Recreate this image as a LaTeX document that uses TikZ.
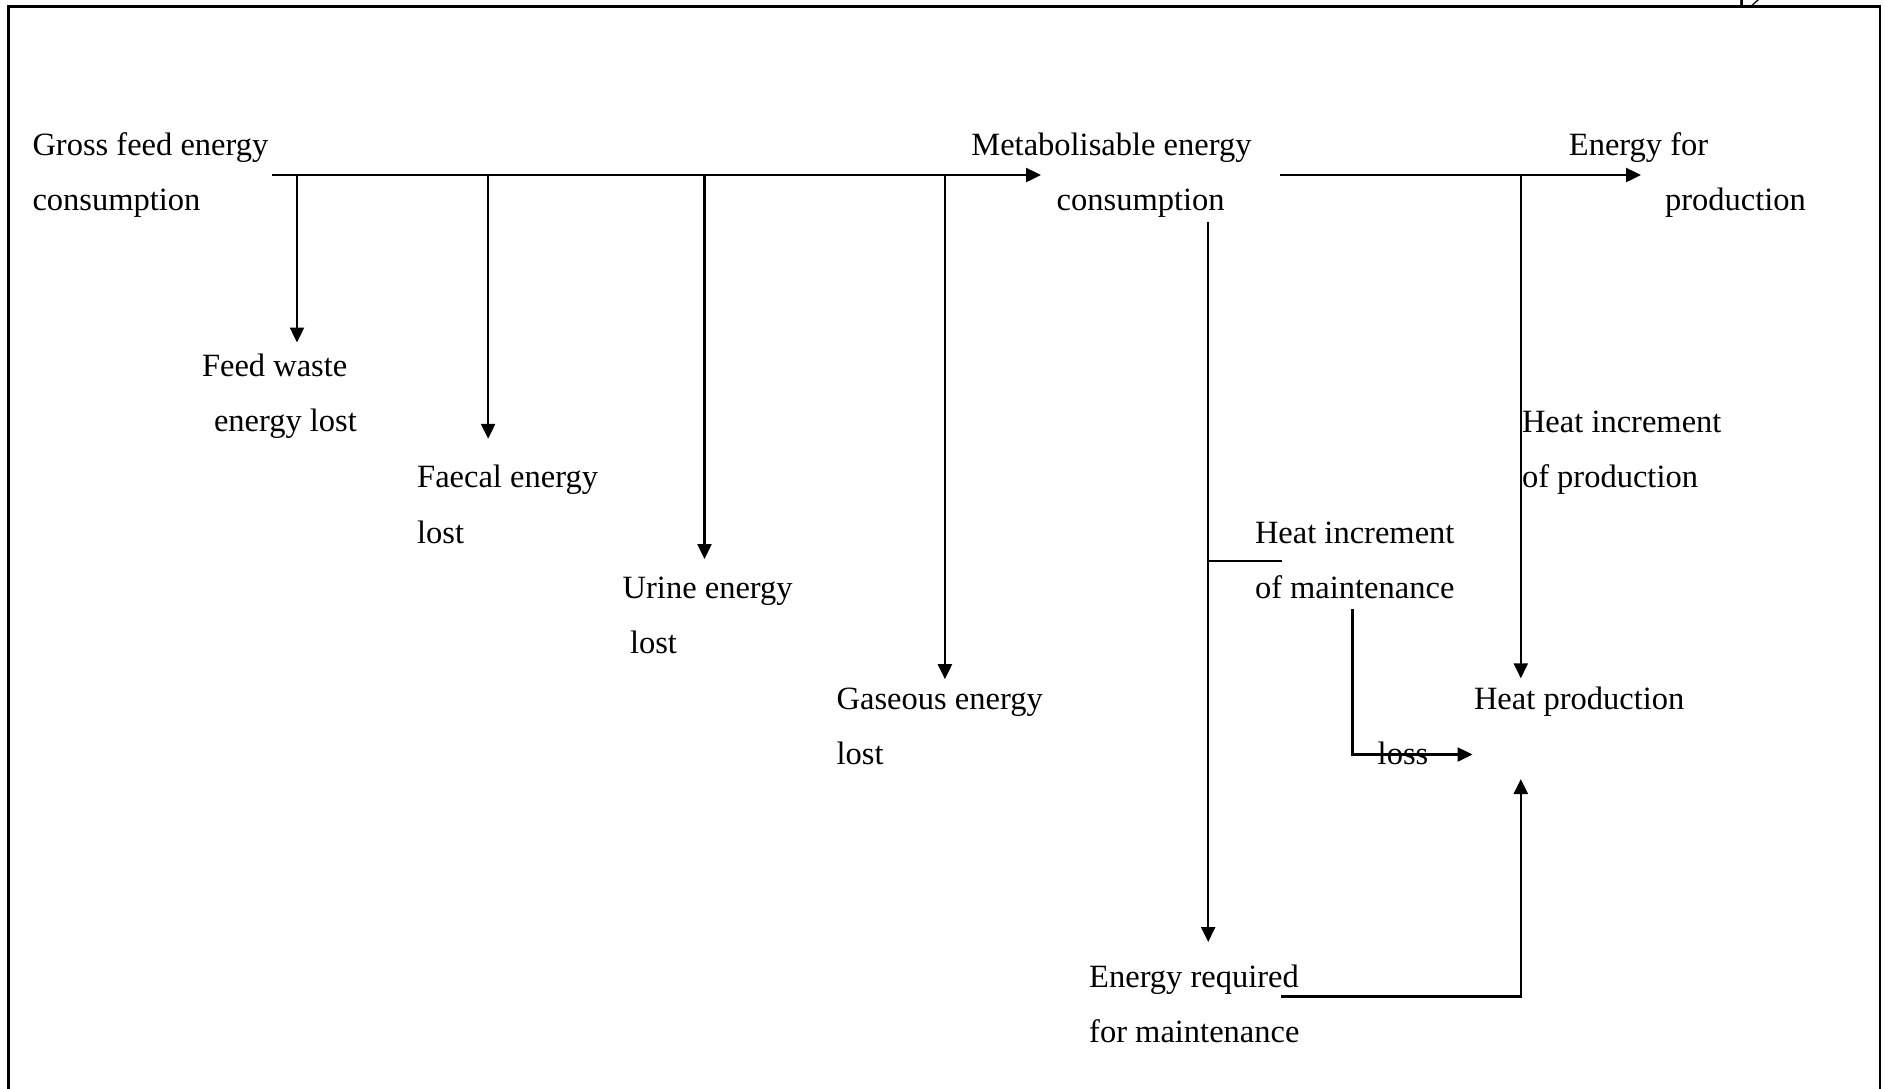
\documentclass[tikz,border=0pt]{standalone}
\usepackage{fontspec}
\setmainfont{Liberation Serif}
\usetikzlibrary{arrows.meta}
\begin{document}
\begin{tikzpicture}[x=1pt,y=-1pt,
  lbl/.style={anchor=base west,inner sep=0pt,outer sep=0pt,font=\fontsize{32.5}{37}\selectfont},
  flow/.style={line width=2.4pt,line cap=butt},
  arr/.style={flow,-{Triangle[length=15pt,width=14pt]}},
  frame/.style={line width=2.6pt}]
\useasboundingbox (0,0) rectangle (1885,1088);
% frame and page number
\draw[frame] (8.5,1100) -- (8.5,6.7) -- (1880,6.7) -- (1880,1100);
\node[lbl] (pg) at (1733,8) {12};
% labels
\node[lbl] (gfe1) at (32.5,155) {Gross feed energy};
\node[lbl] (gfe2) at (32.5,210.3) {consumption};
\node[lbl] (me1) at (971.4,155) {Metabolisable energy};
\node[lbl] (me2) at (1056.7,210.3) {consumption};
\node[lbl] (ep1) at (1568.9,155) {Energy for};
\node[lbl] (ep2) at (1665,210.3) {production};
\node[lbl] (fw1) at (202,376.2) {Feed waste};
\node[lbl] (fw2) at (214,431.5) {energy lost};
\node[lbl] (fa1) at (417.2,487.7) {Faecal energy};
\node[lbl] (fa2) at (417.2,543.3) {lost};
\node[lbl] (ur1) at (622.7,598.6) {Urine energy};
\node[lbl] (ur2) at (630,653.9) {lost};
\node[lbl] (ga1) at (836.7,709.2) {Gaseous energy};
\node[lbl] (ga2) at (836.7,764.5) {lost};
\node[lbl] (hip1) at (1522,432.7) {Heat increment};
\node[lbl] (hip2) at (1522,487.7) {of production};
\node[lbl] (him1) at (1255,543.3) {Heat increment};
\node[lbl] (him2) at (1255,598.6) {of maintenance};
\node[lbl] (hp) at (1474,709.2) {Heat production};
\node[lbl] (loss) at (1377.7,764.5) {loss};
\node[lbl] (erm1) at (1089.2,987) {Energy required};
\node[lbl] (erm2) at (1089.2,1042.5) {for maintenance};
% junction coordinates
\coordinate (gStart) at (271.7,175);
\coordinate (gEnd) at (1041,175);
\coordinate (j1) at (297,175);
\coordinate (j2) at (488.1,175);
\coordinate (j3) at (704.5,175);
\coordinate (j4) at (944.9,175);
\coordinate (t1) at (297,342.5);
\coordinate (t2) at (488.1,438.8);
\coordinate (t3) at (704.5,559);
\coordinate (t4) at (944.9,679.2);
\coordinate (mStart) at (1280.3,175);
\coordinate (mEnd) at (1641,175);
\coordinate (jp) at (1520.8,175);
\coordinate (hpTop) at (1520.8,678.3);
\coordinate (mDown) at (1208.2,222.4);
\coordinate (mTip) at (1208.2,942);
\coordinate (hiA) at (1208.2,561);
\coordinate (hiB) at (1281.7,561);
\coordinate (lsA) at (1352.6,609.4);
\coordinate (lsB) at (1352.6,754.5);
\coordinate (lsTip) at (1472.5,754.5);
\coordinate (rmA) at (1280.5,996.5);
\coordinate (rmB) at (1520.8,996.5);
\coordinate (hpBot) at (1520.8,779);
% connectors
\draw[arr] (gStart) -- (gEnd);
\draw[arr] (j1) -- (t1);
\draw[arr] (j2) -- (t2);
\draw[arr] (j3) -- (t3);
\draw[arr] (j4) -- (t4);
\draw[arr] (mStart) -- (mEnd);
\draw[arr] (jp) -- (hpTop);
\draw[arr] (mDown) -- (mTip);
\draw[line width=1.6pt] (hiA) -- (hiB);
\draw[arr] (lsA) -- (lsB) -- (lsTip);
\draw[arr] (rmA) -- (rmB) -- (hpBot);
\end{tikzpicture}
\end{document}
